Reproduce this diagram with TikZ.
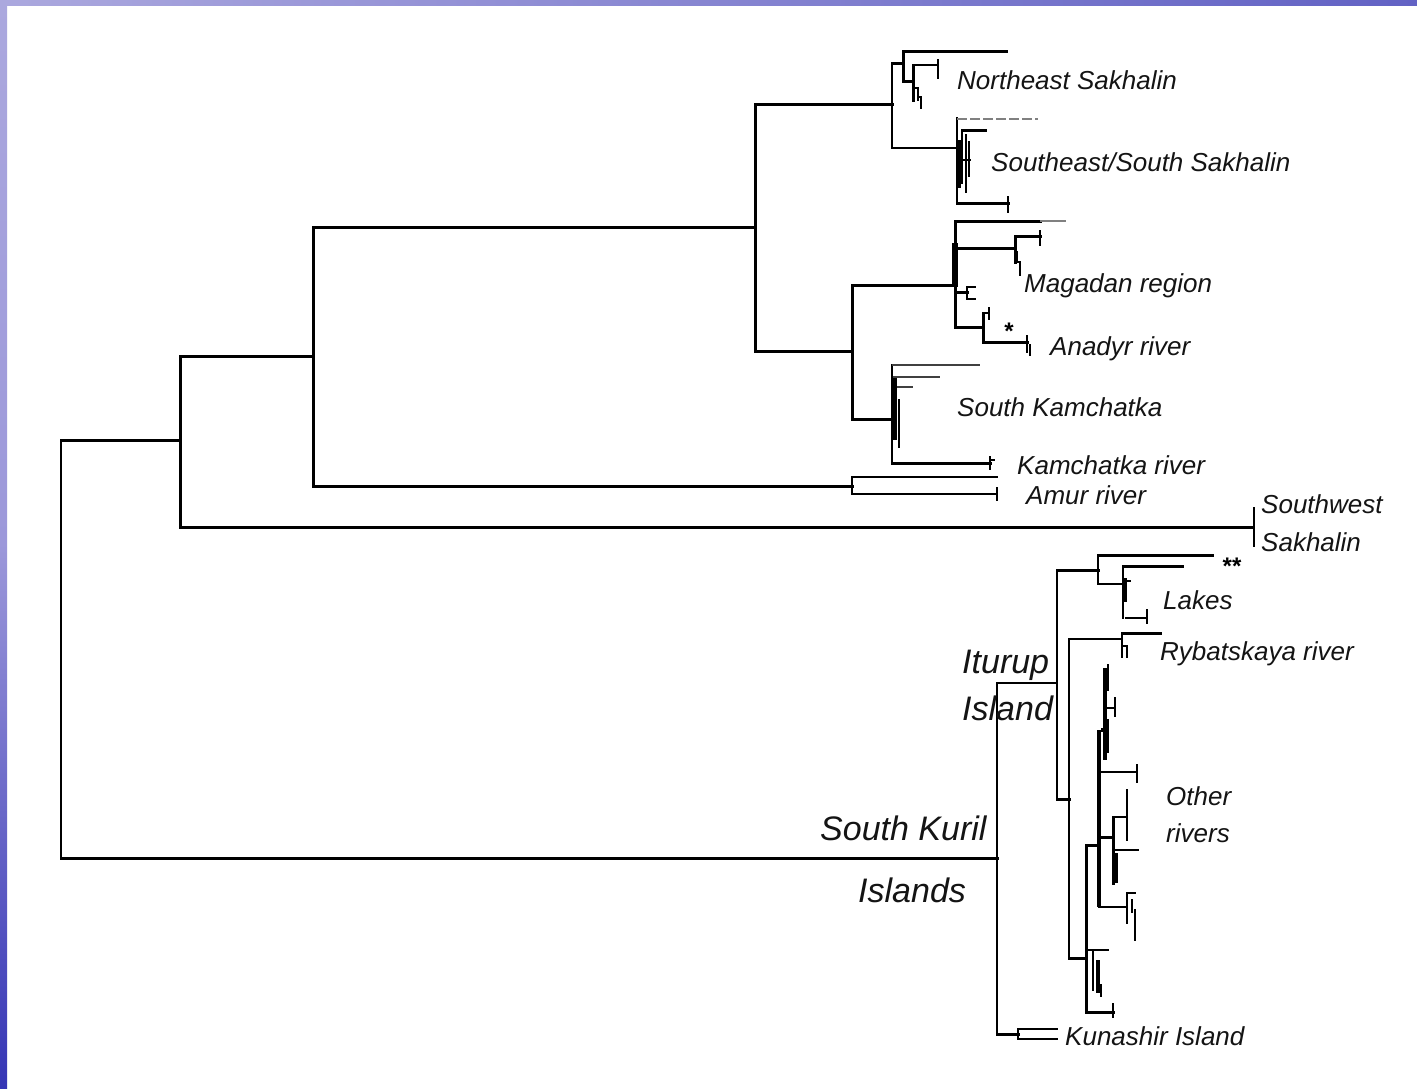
\documentclass[tikz,border=0pt]{standalone}
\usepackage{fontspec}
\setmainfont{Liberation Sans}
\definecolor{stripA}{HTML}{ABA8DE}
\definecolor{stripB}{HTML}{9C98DA}
\definecolor{stripC}{HTML}{3535B5}
\definecolor{stripD}{HTML}{6262C4}
\definecolor{txt}{HTML}{141414}
\begin{document}
\begin{tikzpicture}[x=1pt,y=-1pt,
  br/.style={line width=3pt,line cap=rect},
  tn/.style={line width=2.7pt,line cap=rect},
  hv/.style={line width=4.5pt},
  gr/.style={line width=2.6pt,gray},
  lab/.style={font=\itshape\fontsize{26}{30}\selectfont,text=txt,inner sep=0pt,anchor=base west},
  big/.style={font=\itshape\fontsize{34}{38}\selectfont,text=txt,inner sep=0pt,anchor=base west}]
\useasboundingbox (0,0) rectangle (1417,1088);
\fill[white] (0,0) rectangle (1417,1088);
\shade[top color=stripA, bottom color=stripC, middle color=stripB] (0,0) rectangle (7,1088);
\shade[left color=stripA, right color=stripD] (0,0) rectangle (1417,5);

% ---- root and backbone
\draw[tn] (61,440) -- (61,858);
\draw[br] (61,440) -- (180,440);
\draw[br] (61,858) -- (997,858);
% node A
\draw[br] (180,356) -- (180,527);
\draw[br] (180,356) -- (313,356);
\draw[br] (180,527) -- (1253,527);
\draw[tn] (1254,508) -- (1254,546);
% node B
\draw[br] (313,227) -- (313,486);
\draw[br] (313,227) -- (755,227);
\draw[br] (313,486) -- (852,486);
% Amur
\draw[tn] (852,477) -- (852,494);
\draw[tn] (852,477) -- (997,477);
\draw[tn] (852,494) -- (997,494);
\draw[tn] (997,488) -- (997,500);
% node C
\draw[br] (755,104) -- (755,351);
\draw[br] (755,104) -- (892,104);
\draw[br] (755,351) -- (852,351);
% node D (Sakhalin)
\draw[tn] (892,63) -- (892,148);
\draw[br] (892,63) -- (903,63);
\draw[tn] (892,148) -- (957,148);
% Northeast clade
\draw[br] (903,51) -- (903,81);
\draw[br] (903,51) -- (1006,51);
\draw[br] (903,81) -- (913,81);
\draw[br] (913,65) -- (913,100);
\draw[tn] (913,65) -- (938,65);
\draw[tn] (938,60) -- (938,78);
\draw[tn] (913,88) -- (918,88) -- (918,100);
\draw[tn] (918,97) -- (921,97) -- (921,108);
% Southeast clade
\draw[tn] (957,118) -- (957,203);
\draw[gr,dash pattern=on 10pt off 3pt] (957,119) -- (1038,119);
\draw[br] (957,203) -- (1008,203);
\draw[tn] (1008,197) -- (1008,212);
\draw[tn] (962,130) -- (962,183);
\draw[br] (962,130) -- (985,130);
\draw[hv] (959,140) -- (959,188);
\draw[tn] (966,135) -- (966,192);
\draw[tn] (969,142) -- (969,176);
\draw[tn] (962,160) -- (970,160);
% node E
\draw[br] (852,285) -- (852,419);
\draw[br] (852,285) -- (955,285);
\draw[br] (852,419) -- (892,419);
% Magadan / Anadyr clade
\draw[br] (955,221) -- (955,327);
\draw[br] (955,221) -- (1040,221);
\draw[gr] (1040,221) -- (1066,221);
\draw[line width=5.5pt] (955,243) -- (955,287);
\draw[br] (957,248) -- (1015,248);
\draw[br] (1015,236) -- (1015,262);
\draw[br] (1015,236) -- (1040,236);
\draw[tn] (1040,231) -- (1040,245);
\draw[tn] (1017,252) -- (1017,262) -- (1020,262) -- (1020,275);
\draw[br] (957,292) -- (967,292);
\draw[tn] (967,287) -- (975,287);
\draw[tn] (967,287) -- (967,299) -- (975,299);
\draw[br] (955,327) -- (983,327);
\draw[br] (983,313) -- (983,342);
\draw[tn] (983,313) -- (989,313);
\draw[tn] (989,308) -- (989,319);
\draw[br] (983,342) -- (1027,342);
\draw[tn] (1027,336) -- (1027,352);
\draw[tn] (1030,345) -- (1030,355);
% Kamchatka clade
\draw[tn] (892,365) -- (892,463);
\draw[line width=2.6pt,black!75] (892,365) -- (980,365);
\draw[line width=2.6pt,black!75] (893,377) -- (940,377);
\draw[line width=2.6pt,black!75] (893,387) -- (913,387);
\draw[line width=3.4pt] (895,378) -- (895,440);
\draw[tn] (899,400) -- (899,447);
\draw[br] (892,463) -- (990,463);
\draw[tn] (990,457) -- (990,469);
\draw[tn] (990,460) -- (994,460);
% South Kuril node
\draw[tn] (997,683) -- (997,1034);
\draw[tn] (997,683) -- (1057,683);
% Iturup node
\draw[tn] (1057,570) -- (1057,800);
\draw[br] (1057,570) -- (1098,570);
\draw[br] (1057,799) -- (1069,799);
% Lakes clade
\draw[tn] (1098,555) -- (1098,584);
\draw[br] (1098,555) -- (1212,555);
\draw[tn] (1098,584) -- (1122,584);
\draw[tn] (1123,566) -- (1123,618);
\draw[br] (1123,566) -- (1182,566);
\draw[line width=4pt] (1125,578) -- (1125,602);
\draw[tn] (1125,581) -- (1130,581);
\draw[tn] (1126,618) -- (1147,618);
\draw[tn] (1147,610) -- (1147,623);
% Other rivers node
\draw[tn] (1069,639) -- (1069,958);
\draw[tn] (1069,639) -- (1122,639);
\draw[br] (1069,958) -- (1086,958);
% Rybatskaya
\draw[tn] (1122,633) -- (1122,657);
\draw[br] (1122,633) -- (1160,633);
\draw[tn] (1122,646) -- (1127,646) -- (1127,657);
% Other rivers subtree
\draw[br] (1086,845) -- (1086,1012);
\draw[br] (1086,845) -- (1099,845);
\draw[br] (1086,1012) -- (1113,1012);
\draw[tn] (1113,1004) -- (1113,1017);
\draw[tn] (1087,950) -- (1108,950);
\draw[tn] (1093,950) -- (1093,990);
\draw[line width=3.4pt] (1098,960) -- (1098,993);
\draw[tn] (1101,985) -- (1101,996);
\draw[line width=4pt] (1099,730) -- (1099,907);
\draw[tn] (1099,772) -- (1137,772);
\draw[tn] (1137,765) -- (1137,782);
\draw[br] (1099,837) -- (1113,837);
\draw[br] (1113,817) -- (1113,883);
\draw[tn] (1113,817) -- (1127,817);
\draw[tn] (1127,790) -- (1127,840);
\draw[tn] (1113,850) -- (1138,850);
\draw[line width=3.4pt] (1116,853) -- (1116,883);
\draw[tn] (1099,907) -- (1127,907);
\draw[tn] (1127,893) -- (1127,923);
\draw[tn] (1127,893) -- (1135,893);
\draw[tn] (1132,900) -- (1132,912);
\draw[tn] (1135,910) -- (1135,940);
\draw[line width=3.4pt] (1105,668) -- (1105,760);
\draw[line width=3.4pt] (1101,730) -- (1105,730);
\draw[tn] (1108,665) -- (1108,690);
\draw[tn] (1105,708) -- (1115,708);
\draw[tn] (1115,698) -- (1115,716);
\draw[tn] (1108,720) -- (1108,752);
% Kunashir
\draw[br] (997,1034) -- (1018,1034);
\draw[tn] (1018,1029) -- (1018,1039);
\draw[tn] (1018,1029) -- (1057,1029);
\draw[tn] (1018,1039) -- (1057,1039);

% ---- labels
\node[lab] (ne) at (957,89) {Northeast Sakhalin};
\node[lab] (se) at (991,171) {Southeast/South Sakhalin};
\node[lab] (mag) at (1024,292) {Magadan region};
\node[lab] (an) at (1050,355) {Anadyr river};
\node[lab] (sk) at (957,416) {South Kamchatka};
\node[lab] (kr) at (1017,474) {Kamchatka river};
\node[lab] (am) at (1026,504) {Amur river};
\node[lab] (sw1) at (1261,513) {Southwest};
\node[lab] (sw2) at (1261,551) {Sakhalin};
\node[lab] (lk) at (1163,609) {Lakes};
\node[lab] (ryb) at (1160,660) {Rybatskaya river};
\node[lab] (ot1) at (1166,805) {Other};
\node[lab] (ot2) at (1166,842) {rivers};
\node[lab] (kun) at (1065,1045) {Kunashir Island};
\node[big] (it1) at (962,673) {Iturup};
\node[big] (it2) at (962,720) {Island};
\node[big] (sku1) at (820,840) {South Kuril};
\node[big] (sku2) at (858,902) {Islands};
\node[font=\bfseries\fontsize{24}{24}\selectfont,inner sep=0pt] (st2) at (1232,566) {**};
\node[font=\bfseries\fontsize{24}{24}\selectfont,inner sep=0pt] (st1) at (1009,331) {*};
\end{tikzpicture}
\end{document}
